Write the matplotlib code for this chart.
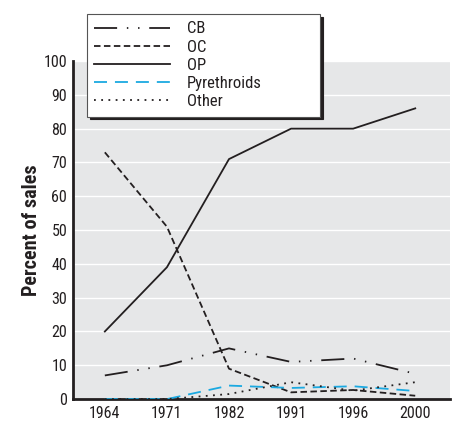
import matplotlib
matplotlib.use("Agg")
import matplotlib.pyplot as plt
from matplotlib import font_manager

entries = font_manager.fontManager.ttflist
names = {f.name for f in entries}
fam = None
for cand in ["Liberation Sans Narrow", "Roboto Condensed", "Open Sans Condensed", "Arial Narrow", "Noto Sans Condensed"]:
    if cand in names:
        fam = cand
        break
stretch = "normal"
if fam is None:
    fam = "DejaVu Sans"
    if any(f.name == "DejaVu Sans" and f.stretch == "condensed" for f in entries):
        stretch = "condensed"
plt.rcParams['font.family'] = [fam, 'DejaVu Sans']
plt.rcParams['font.stretch'] = stretch

years = ["1964", "1971", "1982", "1991", "1996", "2000"]
cb = [7, 10, 15, 11, 12, 7.5]
oc = [73, 51, 9, 2, 2.7, 1]
op = [20, 39, 71, 80, 80, 86]
pyrethroids = [0, 0, 4, 3.3, 3.8, 2.4]
other = [0, 0, 1.5, 5, 2.5, 5]
yticks = [0, 10, 20, 30, 40, 50, 60, 70, 80, 90, 100]

fig = plt.figure(figsize=(4.55, 4.21), dpi=100)
ax = fig.add_axes([0.160, 0.052, 0.829, 0.803])
ax.set_facecolor("#e6e7e8")
x = list(range(len(years)))

lw = 1.3
ink = "#231f20"
ax.plot(x, cb, color=ink, lw=lw, dashes=(12.8, 5.4, 0.8, 5.4, 0.8, 5.4), label="CB", zorder=3)
ax.plot(x, oc, color=ink, lw=lw, dashes=(3.6, 1.9), label="OC", zorder=3)
ax.plot(x, op, color=ink, lw=lw, label="OP", zorder=3)
ax.plot(x, pyrethroids, color="#1ba9e1", lw=lw, dashes=(7.2, 4.4), label="Pyrethroids", zorder=3)
ax.plot(x, other, color=ink, lw=lw, dashes=(1, 3), label="Other", zorder=3)

ax.set_xlim(-0.516, 5.56)
ax.set_ylim(0, 100)
ax.set_xticks(x)
ax.set_xticklabels(years)
ax.set_yticks(yticks)
ax.yaxis.grid(True, color="white", lw=1.0)
ax.set_axisbelow(True)
for s in ["top", "right"]:
    ax.spines[s].set_visible(False)
for s in ["left", "bottom"]:
    ax.spines[s].set_linewidth(2)
    ax.spines[s].set_color(ink)
ax.tick_params(length=0, labelsize=11.5, colors=ink, pad=4)
ax.tick_params(axis="x", pad=5)
ax.set_ylabel("Percent of sales", fontsize=14.5, fontweight="bold", color=ink, labelpad=2)

leg = ax.legend(loc="upper left", bbox_to_anchor=(0.191, 0.727, 0.512, 0.240),
                bbox_transform=fig.transFigure, mode="expand",
                frameon=True, fancybox=False, shadow={'color': ink, 'alpha': 1},
                fontsize=12, handlelength=4.55, handletextpad=1.0, labelspacing=0.19,
                borderpad=0.45, borderaxespad=0)
leg.get_frame().set_edgecolor("#555555")
leg.get_frame().set_linewidth(0.8)
for t in leg.get_texts():
    t.set_color(ink)

fig.savefig("out.png", dpi=100)
